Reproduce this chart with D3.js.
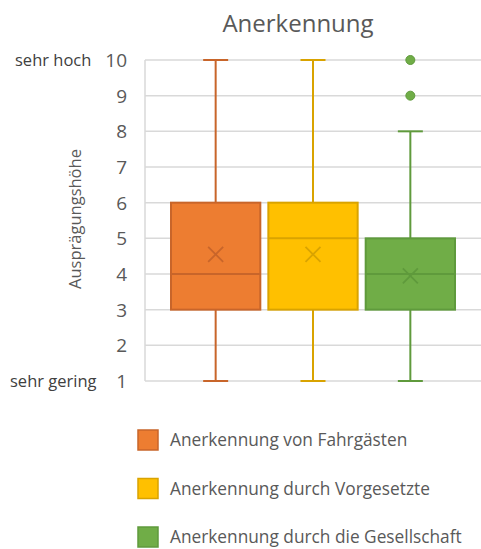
<!DOCTYPE html>
<html>
<head>
<meta charset="utf-8">
<script src="https://cdn.jsdelivr.net/npm/d3@7"></script>
<style>
  html, body { margin: 0; padding: 0; background: #fff; }
  svg { display: block; font-family: "Open Sans", "Noto Sans", sans-serif; }
</style>
</head>
<body>
<svg id="chart" width="481" height="549"></svg>
<script>
// Series and their five-number summaries (1 = sehr gering, 10 = sehr hoch)
const series = ["Anerkennung von Fahrgästen", "Anerkennung durch Vorgesetzte", "Anerkennung durch die Gesellschaft"];
const whiskerLow = [1, 1, 1];
const q1 = [3, 3, 3];
const median = [4, 5, 4];
const q3 = [6, 6, 5];
const whiskerHigh = [10, 10, 8];
const mean = [4.55, 4.55, 3.95];
const outliers = [[], [], [9, 10]];
const yTicks = [1, 2, 3, 4, 5, 6, 7, 8, 9, 10];
const fills = ["#ED7D31", "#FFC000", "#70AD47"];
const strokes = ["#C8652A", "#D9A300", "#5F9A3C"];

const svg = d3.select("#chart");
const plot = { left: 145, right: 483, top: 60, bottom: 381 };

const y = d3.scaleLinear().domain([1, 10]).range([plot.bottom, plot.top]);
const x = d3.scaleBand().domain(series).range([plot.left + 26, plot.right - 28]).paddingInner(0.0825).paddingOuter(0);

// Title
svg.append("text").attr("x", 298).attr("y", 32).attr("text-anchor", "middle")
  .attr("font-size", 24).attr("fill", "#595959").text("Anerkennung");

// Gridlines
svg.append("g").selectAll("line").data(yTicks).join("line")
  .attr("x1", plot.left).attr("x2", 481)
  .attr("y1", d => y(d)).attr("y2", d => y(d))
  .attr("stroke", "#D9D9D9").attr("stroke-width", 1.5);
svg.append("line").attr("x1", plot.left).attr("x2", plot.left)
  .attr("y1", plot.top).attr("y2", plot.bottom)
  .attr("stroke", "#D9D9D9").attr("stroke-width", 1.5);

// Y axis tick labels
const yAxis = d3.axisLeft(y).tickValues(yTicks).tickSize(0).tickPadding(18).tickFormat(d3.format("d"));
const gy = svg.append("g").attr("transform", `translate(${plot.left},0)`).call(yAxis);
gy.select(".domain").remove();
gy.selectAll("text").attr("font-size", 19).attr("fill", "#595959")
  .attr("font-family", "'Open Sans', 'Noto Sans', sans-serif").attr("dy", "0.35em");

// End labels of the scale
svg.append("text").attr("x", 15).attr("y", y(10)).attr("dy", "0.35em")
  .attr("font-size", 16.5).attr("fill", "#404040").text("sehr hoch");
svg.append("text").attr("x", 10).attr("y", y(1)).attr("dy", "0.35em")
  .attr("font-size", 16.5).attr("fill", "#404040").text("sehr gering");

// Y axis title
svg.append("text").attr("transform", `translate(81,${219}) rotate(-90)`)
  .attr("text-anchor", "middle").attr("font-size", 16.5).attr("fill", "#595959").text("Ausprägungshöhe");

// Boxes
const bw = x.bandwidth();
const capW = 25;
const groups = svg.append("g").selectAll("g").data(series).join("g");
groups.each(function (s, i) {
  const g = d3.select(this);
  const cx = x(s) + bw / 2;
  const st = strokes[i];
  // whiskers
  g.append("line").attr("x1", cx).attr("x2", cx).attr("y1", y(q3[i])).attr("y2", y(whiskerHigh[i]))
    .attr("stroke", st).attr("stroke-width", 2);
  g.append("line").attr("x1", cx).attr("x2", cx).attr("y1", y(q1[i])).attr("y2", y(whiskerLow[i]))
    .attr("stroke", st).attr("stroke-width", 2);
  g.append("line").attr("x1", cx - capW / 2).attr("x2", cx + capW / 2)
    .attr("y1", y(whiskerHigh[i])).attr("y2", y(whiskerHigh[i])).attr("stroke", st).attr("stroke-width", 2);
  g.append("line").attr("x1", cx - capW / 2).attr("x2", cx + capW / 2)
    .attr("y1", y(whiskerLow[i])).attr("y2", y(whiskerLow[i])).attr("stroke", st).attr("stroke-width", 2);
  // box
  g.append("rect").attr("x", x(s)).attr("width", bw)
    .attr("y", y(q3[i])).attr("height", y(q1[i]) - y(q3[i]))
    .attr("fill", fills[i]).attr("stroke", st).attr("stroke-width", 2);
  // median
  g.append("line").attr("x1", x(s)).attr("x2", x(s) + bw)
    .attr("y1", y(median[i])).attr("y2", y(median[i])).attr("stroke", st).attr("stroke-width", 2);
  // mean marker
  const m = 7.5;
  const my = y(mean[i]);
  g.append("path").attr("d", `M${cx - m},${my - m}L${cx + m},${my + m}M${cx - m},${my + m}L${cx + m},${my - m}`)
    .attr("stroke", st).attr("stroke-width", 1.8).attr("fill", "none");
  // outliers
  g.selectAll("circle").data(outliers[i]).join("circle")
    .attr("cx", cx).attr("cy", d => y(d)).attr("r", 4.5)
    .attr("fill", fills[i]).attr("stroke", st).attr("stroke-width", 1);
});

// Legend
const legend = svg.append("g").selectAll("g").data(series).join("g")
  .attr("transform", (d, i) => `translate(138,${440 + i * 48.5})`);
legend.append("rect").attr("x", 0).attr("y", -10).attr("width", 20).attr("height", 20)
  .attr("fill", (d, i) => fills[i]).attr("stroke", (d, i) => strokes[i]).attr("stroke-width", 1.5);
legend.append("text").attr("x", 32).attr("y", 0).attr("dy", "0.35em")
  .attr("font-size", 17.3).attr("fill", "#595959").text(d => d);
</script>
</body>
</html>
